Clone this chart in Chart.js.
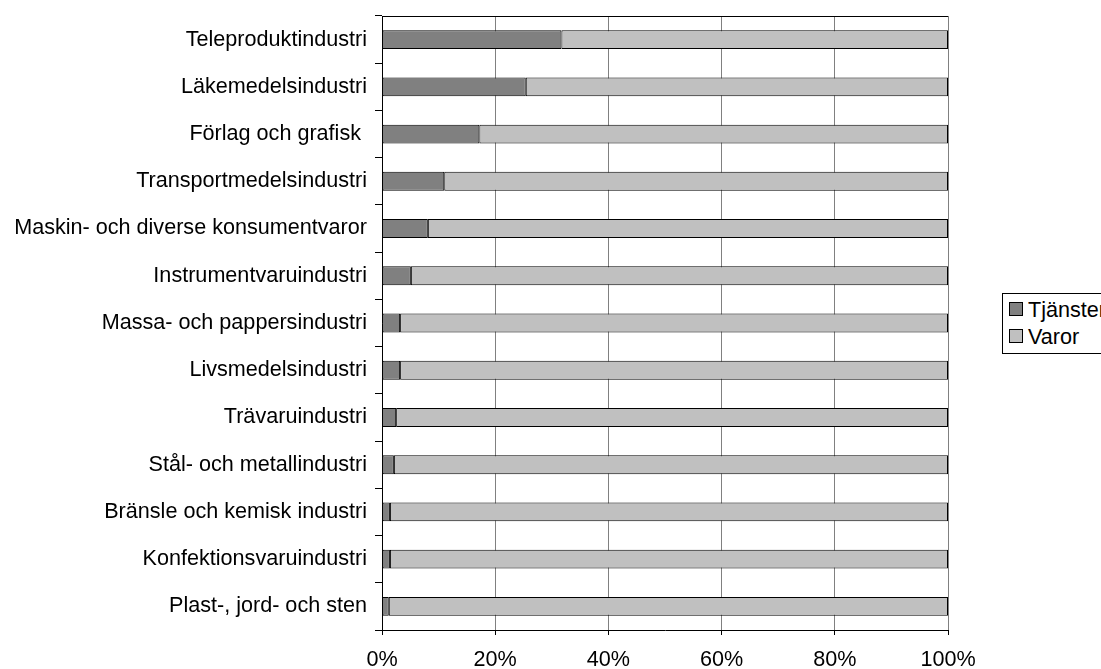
<!DOCTYPE html>
<html>
<head>
<meta charset="utf-8">
<script src="https://cdn.jsdelivr.net/npm/chart.js@4.4.0/dist/chart.umd.min.js"></script>
<style>
  html, body { margin: 0; padding: 0; background: #fff; overflow: hidden; }
  #wrap { position: relative; width: 1101px; height: 669px; }
  #legend {
    position: absolute; left: 1002px; top: 293px; width: 130px; height: 59px;
    border: 1px solid #000; font-family: "Liberation Sans", Arial, sans-serif;
    font-size: 21.6px; color: #000; background: #fff;
  }
  .row { position: absolute; left: 6px; height: 24px; line-height: 24px; white-space: nowrap; }
  .sw { display: inline-block; width: 12px; height: 12px; border: 1px solid #000; vertical-align: middle; margin-right: 5px; position: relative; top: -2px; }
</style>
</head>
<body>
<div id="wrap">
  <canvas id="chart" width="1101" height="669"></canvas>
  <div id="legend"></div>
</div>
<script>
const categories = [
  'Teleproduktindustri',
  'Läkemedelsindustri',
  'Förlag och grafisk ',
  'Transportmedelsindustri',
  'Maskin- och diverse konsumentvaror',
  'Instrumentvaruindustri',
  'Massa- och pappersindustri',
  'Livsmedelsindustri',
  'Trävaruindustri',
  'Stål- och metallindustri',
  'Bränsle och kemisk industri',
  'Konfektionsvaruindustri',
  'Plast-, jord- och sten'
];
const tjanster = [31.7, 25.4, 17.2, 11.0, 8.1, 5.1, 3.2, 3.2, 2.5, 2.1, 1.4, 1.4, 1.2];
const varor = [68.3, 74.6, 82.8, 89.0, 91.9, 94.9, 96.8, 96.8, 97.5, 97.9, 98.6, 98.6, 98.8];
const xTicks = [0, 20, 40, 60, 80, 100];

const seriesNames = ['Tjänster', 'Varor'];
const seriesColors = ['#808080', '#c0c0c0'];

const font = { family: '"Liberation Sans", Arial, sans-serif', size: 21.6 };

const topBorder = {
  id: 'topBorder',
  afterDraw(chart) {
    const { ctx, chartArea } = chart;
    ctx.save();
    ctx.strokeStyle = '#000';
    ctx.lineWidth = 1;
    ctx.beginPath();
    ctx.moveTo(chartArea.left, chartArea.top + 0.5);
    ctx.lineTo(chartArea.right, chartArea.top + 0.5);
    ctx.stroke();
    ctx.restore();
  }
};

new Chart(document.getElementById('chart').getContext('2d'), {
  type: 'bar',
  data: {
    labels: categories,
    datasets: [
      { label: seriesNames[0], data: tjanster, backgroundColor: seriesColors[0], borderColor: '#000', borderWidth: 1, borderSkipped: false, categoryPercentage: 1, barPercentage: 0.4 },
      { label: seriesNames[1], data: varor, backgroundColor: seriesColors[1], borderColor: '#000', borderWidth: 1, borderSkipped: false, categoryPercentage: 1, barPercentage: 0.4 }
    ]
  },
  options: {
    indexAxis: 'y',
    responsive: false,
    animation: false,
    layout: { padding: { top: 16, right: 153, left: 0, bottom: 0 } },
    plugins: { legend: { display: false }, tooltip: { enabled: false } },
    scales: {
      x: {
        stacked: true,
        min: 0, max: 100,
        afterBuildTicks: axis => { axis.ticks = xTicks.map(v => ({ value: v })); },
        afterFit: axis => { axis.height = 39; axis.paddingLeft = 0; axis.paddingRight = 0; },
        ticks: { callback: v => v + '%', color: '#000', font: font, padding: 12, maxRotation: 0 },
        grid: { color: '#808080', tickColor: '#000', tickLength: 5 },
        border: { color: '#000' }
      },
      y: {
        stacked: true,
        afterFit: axis => { axis.width = 382; axis.paddingTop = 0; axis.paddingBottom = 0; },
        ticks: { color: '#000', font: font, padding: 8 },
        grid: { drawOnChartArea: false, tickColor: '#000', tickLength: 7, offset: true },
        border: { color: '#000' }
      }
    }
  },
  plugins: [topBorder]
});

const legend = document.getElementById('legend');
seriesNames.forEach((name, i) => {
  const row = document.createElement('div');
  row.className = 'row';
  row.style.top = (4 + i * 27) + 'px';
  row.innerHTML = '<span class="sw" style="background:' + seriesColors[i] + '"></span>' + name;
  legend.appendChild(row);
});
</script>
</body>
</html>
